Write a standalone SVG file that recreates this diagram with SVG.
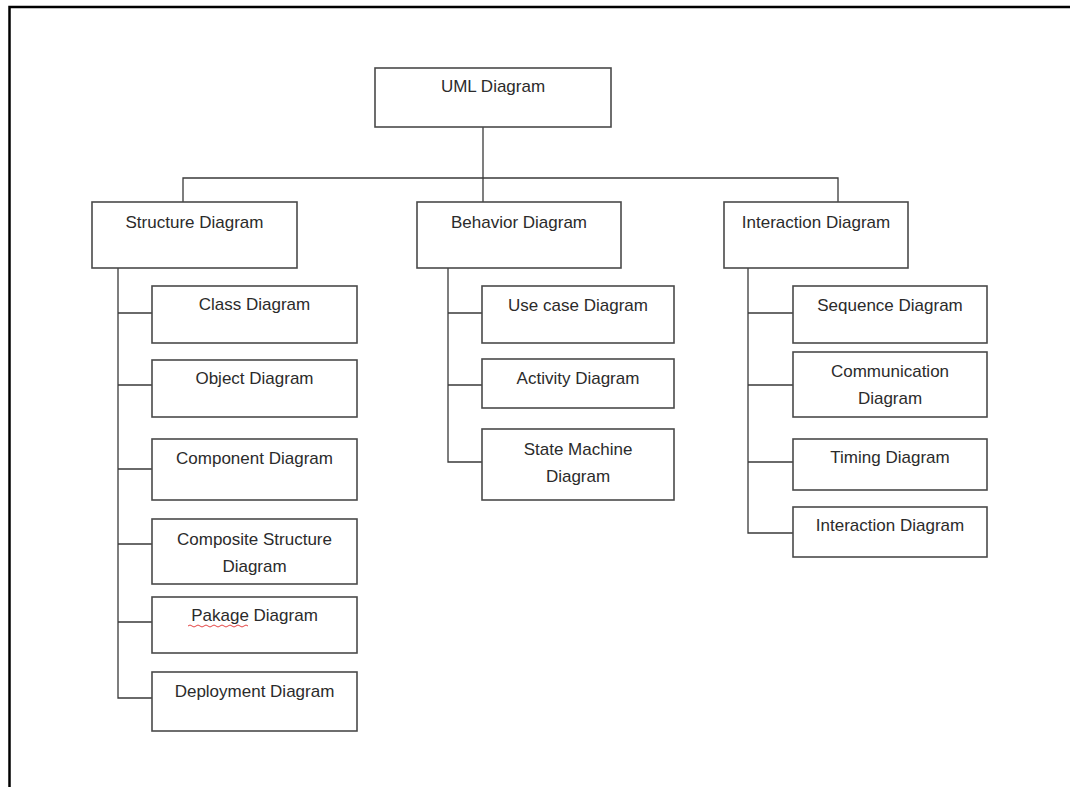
<svg xmlns="http://www.w3.org/2000/svg" width="1070" height="787" viewBox="0 0 1070 787">
<style>
.box{fill:#fff;stroke:#4a4a4a;stroke-width:1.6}
.lbl{font-family:"Liberation Sans",Arial,sans-serif;font-size:17px;fill:#2b2b2b;text-anchor:middle}
.con{fill:none;stroke:#3a3a3a;stroke-width:1.3}
.frame{fill:none;stroke:#000;stroke-width:2.5}
</style>
<rect width="1070" height="787" fill="#fff"/>
<path class="frame" d="M9.5 787 V7 H1070"/>
<g id="connectors">
<path class="con" d="M483 127 V202"/>
<path class="con" d="M183 202 V178 H838 V202"/>
<path class="con" d="M118 268 V698 H152 M118 313 H152 M118 385 H152 M118 469 H152 M118 544 H152 M118 622 H152"/>
<path class="con" d="M448 268 V462 H482 M448 313 H482 M448 385 H482"/>
<path class="con" d="M748 268 V533 H793 M748 313 H793 M748 385 H793 M748 462 H793"/>
</g>
<g id="uml"><rect class="box" x="375" y="68" width="236" height="59"/><text class="lbl" x="493" y="92">UML Diagram</text></g>
<g id="structure"><rect class="box" x="92" y="202" width="205" height="66"/><text class="lbl" x="194.5" y="228">Structure Diagram</text></g>
<g id="behavior"><rect class="box" x="417" y="202" width="204" height="66"/><text class="lbl" x="519" y="228">Behavior Diagram</text></g>
<g id="interaction"><rect class="box" x="724" y="202" width="184" height="66"/><text class="lbl" x="816" y="228">Interaction Diagram</text></g>
<g id="class"><rect class="box" x="152" y="286" width="205" height="57"/><text class="lbl" x="254.5" y="310">Class Diagram</text></g>
<g id="object"><rect class="box" x="152" y="360" width="205" height="57"/><text class="lbl" x="254.5" y="384">Object Diagram</text></g>
<g id="component"><rect class="box" x="152" y="439" width="205" height="61"/><text class="lbl" x="254.5" y="464">Component Diagram</text></g>
<g id="composite"><rect class="box" x="152" y="519" width="205" height="65"/><text class="lbl" x="254.5" y="545">Composite Structure</text><text class="lbl" x="254.5" y="572">Diagram</text></g>
<g id="pakage"><rect class="box" x="152" y="597" width="205" height="56"/><text class="lbl" x="254.5" y="621">Pakage Diagram</text><path d="M188 626 q2 -2 4 0 t4 0 t4 0 t4 0 t4 0 t4 0 t4 0 t4 0 t4 0 t4 0 t4 0 t4 0 t4 0 t4 0 t4 0" fill="none" stroke="#e03030" stroke-width="0.9"/></g>
<g id="deployment"><rect class="box" x="152" y="672" width="205" height="59"/><text class="lbl" x="254.5" y="697">Deployment Diagram</text></g>
<g id="usecase"><rect class="box" x="482" y="286" width="192" height="57"/><text class="lbl" x="578" y="311">Use case Diagram</text></g>
<g id="activity"><rect class="box" x="482" y="359" width="192" height="49"/><text class="lbl" x="578" y="384">Activity Diagram</text></g>
<g id="statemachine"><rect class="box" x="482" y="429" width="192" height="71"/><text class="lbl" x="578" y="455">State Machine</text><text class="lbl" x="578" y="482">Diagram</text></g>
<g id="sequence"><rect class="box" x="793" y="286" width="194" height="57"/><text class="lbl" x="890" y="311">Sequence Diagram</text></g>
<g id="communication"><rect class="box" x="793" y="352" width="194" height="65"/><text class="lbl" x="890" y="377">Communication</text><text class="lbl" x="890" y="404">Diagram</text></g>
<g id="timing"><rect class="box" x="793" y="439" width="194" height="51"/><text class="lbl" x="890" y="463">Timing Diagram</text></g>
<g id="interaction2"><rect class="box" x="793" y="507" width="194" height="50"/><text class="lbl" x="890" y="531">Interaction Diagram</text></g>
</svg>
